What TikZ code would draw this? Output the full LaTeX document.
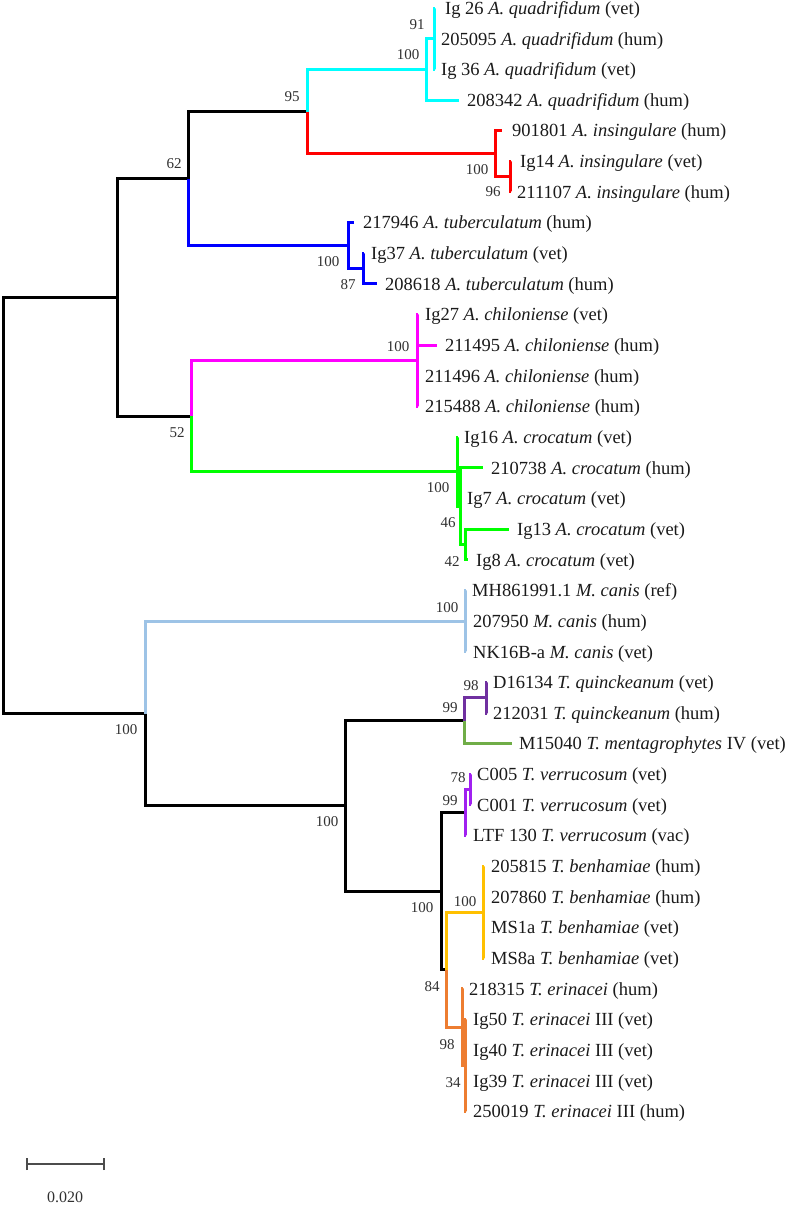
\documentclass[tikz,border=0pt]{standalone}
\usepackage{fontspec}
\setmainfont{Liberation Serif}
\definecolor{colq}{HTML}{00FFFF}
\definecolor{colr}{HTML}{FF0000}
\definecolor{colb}{HTML}{0000FF}
\definecolor{colm}{HTML}{FF00FF}
\definecolor{colg}{HTML}{00FF00}
\definecolor{collb}{HTML}{9DC3E6}
\definecolor{colqk}{HTML}{7030A0}
\definecolor{colmt}{HTML}{70AD47}
\definecolor{colvr}{HTML}{A020F0}
\definecolor{coly}{HTML}{FFC000}
\definecolor{colo}{HTML}{ED7D31}
\definecolor{coltxt}{HTML}{1A1A1A}
\begin{document}
\begin{tikzpicture}[x=1pt,y=-1pt,
  br/.style={line width=3pt},
  lab/.style={inner sep=0pt,anchor=base west,text=coltxt,font=\fontsize{18.5}{20}\selectfont},
  bs/.style={inner sep=0pt,text=coltxt!90,font=\fontsize{15}{16}\selectfont}]
\useasboundingbox[fill=white] (0,0) rectangle (787,1205);
% internal nodes
\coordinate (root) at (3,505.4);
\coordinate (nA) at (117,297.3);
\coordinate (n62) at (188,178.5);
\coordinate (n95) at (307,111.5);
\coordinate (nQ100) at (426,69.3);
\coordinate (nQ91) at (434,38.7);
\coordinate (nI100) at (495,153.6);
\coordinate (nI96) at (510,176.6);
\coordinate (nT100) at (348,245.5);
\coordinate (nT87) at (363,268.5);
\coordinate (n52) at (191,416);
\coordinate (nC100) at (417,360.5);
\coordinate (nK100) at (457,471.6);
\coordinate (nK46) at (460,506.1);
\coordinate (nK42) at (465,544.4);
\coordinate (nL100) at (145,713.5);
\coordinate (nM100) at (465,621);
\coordinate (nT) at (345,805.9);
\coordinate (n99a) at (464,720.6);
\coordinate (nQk98) at (486,697.6);
\coordinate (nBig) at (441,891.2);
\coordinate (nV99) at (465,812.6);
\coordinate (nV78) at (470,789.6);
\coordinate (n84) at (446,969.8);
\coordinate (nB100) at (483,912.4);
\coordinate (nE98) at (462,1027.2);
\coordinate (nE34) at (465,1065.6);
% leaf tips
\coordinate (l1) at (435,8);
\coordinate (l2) at (435,38.7);
\coordinate (l3) at (435,69.3);
\coordinate (l4) at (459,100);
\coordinate (l5) at (502,130.6);
\coordinate (l6) at (511,161.3);
\coordinate (l7) at (511,191.9);
\coordinate (l8) at (354,222.6);
\coordinate (l9) at (364,253.2);
\coordinate (l10) at (377,283.9);
\coordinate (l11) at (418,314.5);
\coordinate (l12) at (437,345.2);
\coordinate (l13) at (418,375.8);
\coordinate (l14) at (418,406.5);
\coordinate (l15) at (458,437.1);
\coordinate (l16) at (483,467.8);
\coordinate (l17) at (461,498.4);
\coordinate (l18) at (509,529.1);
\coordinate (l19) at (468,559.7);
\coordinate (l20) at (466,590.4);
\coordinate (l21) at (466,621);
\coordinate (l22) at (466,651.7);
\coordinate (l23) at (487,682.3);
\coordinate (l24) at (487,713);
\coordinate (l25) at (512,743.6);
\coordinate (l26) at (471,774.3);
\coordinate (l27) at (471,804.9);
\coordinate (l28) at (466,835.6);
\coordinate (l29) at (484,866.2);
\coordinate (l30) at (484,896.9);
\coordinate (l31) at (484,927.5);
\coordinate (l32) at (484,958.2);
\coordinate (l33) at (463,988.8);
\coordinate (l34) at (466,1019.5);
\coordinate (l35) at (466,1050.1);
\coordinate (l36) at (466,1080.8);
\coordinate (l37) at (466,1111.4);
% branches
\draw[br,black] (root) |- (nA);
\draw[br,black] (root) |- (nL100);
\draw[br,black] (nA) |- (n62);
\draw[br,black] (nA) |- (n52);
\draw[br,black] (n62) |- (n95);
\draw[br,colb] (n62) |- (nT100);
\draw[br,colq] (n95) |- (nQ100);
\draw[br,colr] (n95) |- (nI100);
\draw[br,colq] (nQ100) |- (nQ91);
\draw[br,colq] (nQ100) |- (l4);
\draw[br,colq] (nQ91) |- (l1);
\draw[br,colq] (nQ91) |- (l2);
\draw[br,colq] (nQ91) |- (l3);
\draw[br,colr] (nI100) |- (l5);
\draw[br,colr] (nI100) |- (nI96);
\draw[br,colr] (nI96) |- (l6);
\draw[br,colr] (nI96) |- (l7);
\draw[br,colb] (nT100) |- (l8);
\draw[br,colb] (nT100) |- (nT87);
\draw[br,colb] (nT87) |- (l9);
\draw[br,colb] (nT87) |- (l10);
\draw[br,colm] (n52) |- (nC100);
\draw[br,colg] (n52) |- (nK100);
\draw[br,colm] (nC100) |- (l11);
\draw[br,colm] (nC100) |- (l12);
\draw[br,colm] (nC100) |- (l13);
\draw[br,colm] (nC100) |- (l14);
\draw[br,colg] (nK100) |- (l15);
\draw[br,colg] (nK100) |- (nK46);
\draw[br,colg] (nK46) |- (l16);
\draw[br,colg] (nK46) |- (l17);
\draw[br,colg] (nK46) |- (nK42);
\draw[br,colg] (nK42) |- (l18);
\draw[br,colg] (nK42) |- (l19);
\draw[br,collb] (nL100) |- (nM100);
\draw[br,black] (nL100) |- (nT);
\draw[br,collb] (nM100) |- (l20);
\draw[br,collb] (nM100) |- (l21);
\draw[br,collb] (nM100) |- (l22);
\draw[br,black] (nT) |- (n99a);
\draw[br,black] (nT) |- (nBig);
\draw[br,colqk] (n99a) |- (nQk98);
\draw[br,colmt] (n99a) |- (l25);
\draw[br,colqk] (nQk98) |- (l23);
\draw[br,colqk] (nQk98) |- (l24);
\draw[br,black] (nBig) |- (nV99);
\draw[br,black] (nBig) |- (n84);
\draw[br,colvr] (nV99) |- (nV78);
\draw[br,colvr] (nV99) |- (l28);
\draw[br,colvr] (nV78) |- (l26);
\draw[br,colvr] (nV78) |- (l27);
\draw[br,coly] (n84) |- (nB100);
\draw[br,colo] (n84) |- (nE98);
\draw[br,coly] (nB100) |- (l29);
\draw[br,coly] (nB100) |- (l30);
\draw[br,coly] (nB100) |- (l31);
\draw[br,coly] (nB100) |- (l32);
\draw[br,colo] (nE98) |- (l33);
\draw[br,colo] (nE98) |- (nE34);
\draw[br,colo] (nE34) |- (l34);
\draw[br,colo] (nE34) |- (l35);
\draw[br,colo] (nE34) |- (l36);
\draw[br,colo] (nE34) |- (l37);
% leaf labels
\node[lab] (t1) at (445,14.3) {Ig 26 \textit{A. quadrifidum} (vet)};
\node[lab] (t2) at (441,45.0) {205095 \textit{A. quadrifidum} (hum)};
\node[lab] (t3) at (441,75.6) {Ig 36 \textit{A. quadrifidum} (vet)};
\node[lab] (t4) at (467,106.3) {208342 \textit{A. quadrifidum} (hum)};
\node[lab] (t5) at (512,136.9) {901801 \textit{A. insingulare} (hum)};
\node[lab] (t6) at (520,167.6) {Ig14 \textit{A. insingulare} (vet)};
\node[lab] (t7) at (517,198.2) {211107 \textit{A. insingulare} (hum)};
\node[lab] (t8) at (363,228.9) {217946 \textit{A. tuberculatum} (hum)};
\node[lab] (t9) at (371,259.5) {Ig37 \textit{A. tuberculatum} (vet)};
\node[lab] (t10) at (385,290.2) {208618 \textit{A. tuberculatum} (hum)};
\node[lab] (t11) at (425,320.8) {Ig27 \textit{A. chiloniense} (vet)};
\node[lab] (t12) at (445,351.5) {211495 \textit{A. chiloniense} (hum)};
\node[lab] (t13) at (425,382.1) {211496 \textit{A. chiloniense} (hum)};
\node[lab] (t14) at (425,412.8) {215488 \textit{A. chiloniense} (hum)};
\node[lab] (t15) at (464,443.4) {Ig16 \textit{A. crocatum} (vet)};
\node[lab] (t16) at (491,474.1) {210738 \textit{A. crocatum} (hum)};
\node[lab] (t17) at (467,504.7) {Ig7 \textit{A. crocatum} (vet)};
\node[lab] (t18) at (517,535.4) {Ig13 \textit{A. crocatum} (vet)};
\node[lab] (t19) at (476,566.0) {Ig8 \textit{A. crocatum} (vet)};
\node[lab] (t20) at (472,596.7) {MH861991.1 \textit{M. canis} (ref)};
\node[lab] (t21) at (473,627.3) {207950 \textit{M. canis} (hum)};
\node[lab] (t22) at (473,658.0) {NK16B-a \textit{M. canis} (vet)};
\node[lab] (t23) at (493,688.6) {D16134 \textit{T. quinckeanum} (vet)};
\node[lab] (t24) at (493,719.3) {212031 \textit{T. quinckeanum} (hum)};
\node[lab] (t25) at (519,749.9) {M15040 \textit{T. mentagrophytes} IV (vet)};
\node[lab] (t26) at (477,780.6) {C005 \textit{T. verrucosum} (vet)};
\node[lab] (t27) at (477,811.2) {C001 \textit{T. verrucosum} (vet)};
\node[lab] (t28) at (473,841.9) {LTF 130 \textit{T. verrucosum} (vac)};
\node[lab] (t29) at (491,872.5) {205815 \textit{T. benhamiae} (hum)};
\node[lab] (t30) at (491,903.2) {207860 \textit{T. benhamiae} (hum)};
\node[lab] (t31) at (491,933.8) {MS1a \textit{T. benhamiae} (vet)};
\node[lab] (t32) at (491,964.5) {MS8a \textit{T. benhamiae} (vet)};
\node[lab] (t33) at (469,995.1) {218315 \textit{T. erinacei} (hum)};
\node[lab] (t34) at (473,1025.8) {Ig50 \textit{T. erinacei} III (vet)};
\node[lab] (t35) at (473,1056.4) {Ig40 \textit{T. erinacei} III (vet)};
\node[lab] (t36) at (473,1087.1) {Ig39 \textit{T. erinacei} III (vet)};
\node[lab] (t37) at (473,1117.7) {250019 \textit{T. erinacei} III (hum)};
% bootstrap values
\node[bs] (b91) at (417,25) {91};
\node[bs] (bq100) at (408,55) {100};
\node[bs] (b95) at (292,97) {95};
\node[bs] (b62) at (174,164) {62};
\node[bs] (bi100) at (477,170) {100};
\node[bs] (b96) at (493,192) {96};
\node[bs] (bt100) at (328,262) {100};
\node[bs] (b87) at (348,285) {87};
\node[bs] (bc100) at (398,347) {100};
\node[bs] (b52) at (177,433) {52};
\node[bs] (bk100) at (438,488) {100};
\node[bs] (b46) at (448,523) {46};
\node[bs] (b42) at (452,562) {42};
\node[bs] (bm100) at (447,608) {100};
\node[bs] (bl100) at (126,730) {100};
\node[bs] (b98a) at (471,686) {98};
\node[bs] (b99a) at (450,708) {99};
\node[bs] (b78) at (458,778) {78};
\node[bs] (b99b) at (450,801) {99};
\node[bs] (bt100b) at (327,822) {100};
\node[bs] (by100) at (465,902) {100};
\node[bs] (bbig100) at (422,908) {100};
\node[bs] (b84) at (432,987) {84};
\node[bs] (b98b) at (447,1045) {98};
\node[bs] (b34) at (453,1083) {34};
% scale bar
\coordinate (sb1) at (27,1164);
\coordinate (sb2) at (104,1164);
\draw[line width=1.3pt,black!70] (sb1) -- (sb2);
\draw[line width=1.3pt,black!70] ([yshift=-6pt]sb1) -- ([yshift=6pt]sb1);
\draw[line width=1.3pt,black!70] ([yshift=-6pt]sb2) -- ([yshift=6pt]sb2);
\node[bs,font=\fontsize{16}{17}\selectfont] (sbl) at (65,1197) {0.020};
\end{tikzpicture}
\end{document}
